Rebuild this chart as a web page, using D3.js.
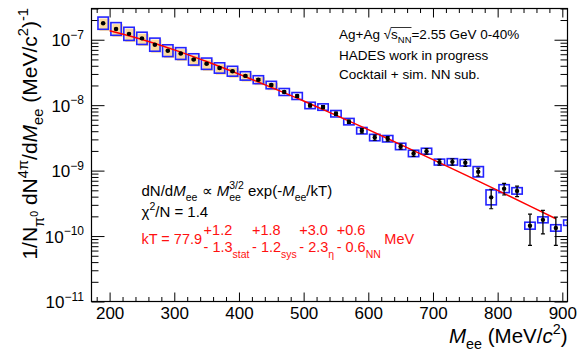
<!DOCTYPE html>
<html>
<head>
<meta charset="utf-8">
<script src="https://cdn.jsdelivr.net/npm/d3@7"></script>
<style>
  body { margin: 0; background: #fff; }
  svg { display: block; font-family: "Liberation Sans", Arial, sans-serif; }
</style>
</head>
<body>
<div id="chart"></div>
<script>
// excess dielectron mass spectrum

var mass = [190, 210, 230, 250, 270, 290, 310, 330, 350, 370, 390, 410, 430, 450, 470, 490, 510, 530, 550,
  570, 590, 610, 630, 650, 670, 690, 710, 730, 750, 770, 790, 810, 830, 850, 870, 890, 910];
var yieldVal = [1.79e-7, 1.46e-7, 1.23e-7, 1.05e-7, 8.4e-8, 6.8e-8, 6.15e-8, 5.0e-8, 4.3e-8, 3.7e-8, 3.3e-8,
  2.8e-8, 2.45e-8, 2.03e-8, 1.59e-8, 1.38e-8, 9.9e-9, 9.35e-9, 7.4e-9, 5.6e-9, 4.07e-9, 3.2e-9, 3.07e-9,
  2.34e-9, 1.83e-9, 1.98e-9, 1.35e-9, 1.36e-9, 1.32e-9, 9.6e-10, 3.9e-10, 5.3e-10, 4.9e-10, 1.44e-10,
  1.77e-10, 1.33e-10, 1.6e-10];
// relative errors
var statErr = [0.02, 0.02, 0.02, 0.02, 0.02, 0.02, 0.02, 0.025, 0.025, 0.03, 0.03, 0.03, 0.035, 0.035, 0.04,
  0.045, 0.05, 0.05, 0.06, 0.06, 0.08, 0.09, 0.08, 0.09, 0.1, 0.1, 0.1, 0.11, 0.12, 0.14, 0.33, 0.2, 0.18,
  0.5, 0.39, 0.46, 0.1];
var sysErr = [0.24, 0.25, 0.26, 0.24, 0.26, 0.23, 0.23, 0.22, 0.22, 0.2, 0.19, 0.16, 0.15, 0.14, 0.13, 0.13,
  0.12, 0.12, 0.12, 0.12, 0.12, 0.12, 0.12, 0.12, 0.12, 0.11, 0.11, 0.12, 0.12, 0.2, 0.3, 0.15, 0.12, 0.13,
  0.11, 0.12, 0.1];
// bins with the (orange) eta subtraction band
var etaMass = [190, 210, 230, 250, 270, 290, 310, 330, 350, 370, 390, 410, 430, 450];

// fit curve, read at a few masses
var fitMass = [200, 250, 300, 350, 400, 450, 500, 550, 600, 650, 700, 750, 800, 850, 890];
var fitVal = [1.37e-7, 1.01e-7, 7.0e-8, 4.64e-8, 2.98e-8, 1.87e-8, 1.16e-8, 7.0e-9, 4.22e-9, 2.49e-9,
  1.47e-9, 8.59e-10, 4.98e-10, 2.87e-10, 1.84e-10];

var xTicks = [200, 300, 400, 500, 600, 700, 800, 900];
var yTicks = [1e-11, 1e-10, 1e-9, 1e-8, 1e-7];
var yTickExp = ["\u221211", "\u221210", "\u22129", "\u22128", "\u22127"];

var ktUp = ["+1.2", "+1.8", "+3.0", "+0.6"];
var ktDown = ["- 1.3", "- 1.2", "- 2.3", "- 0.6"];
var ktSub = ["stat", "sys", "\u03b7", "NN"];

var W = 577, H = 351;
var frame = { left: 91.5, right: 567.5, top: 8.5, bottom: 301.5 };

var svg = d3.select("#chart").append("svg")
  .attr("width", W).attr("height", H);

var x = d3.scaleLinear().domain([172, 908]).range([frame.left, frame.right]);
var y = d3.scaleLog().domain([1e-11, 3e-7]).range([frame.bottom, frame.top]);

svg.append("defs").append("clipPath").attr("id", "clip")
  .append("rect")
  .attr("x", frame.left).attr("y", frame.top)
  .attr("width", frame.right - frame.left).attr("height", frame.bottom - frame.top);

// ---- axes (ROOT style, ticks inside, mirrored)
function cleanAxis(g) {
  g.select(".domain").remove();
  g.selectAll("line").attr("stroke", "#000").attr("stroke-width", 1);
}

var minorX = x.ticks(40).filter(function (d) { return xTicks.indexOf(d) < 0; });
var minorY = y.ticks().filter(function (d) {
  return yTicks.every(function (t) { return Math.abs(t - d) / t > 1e-6; });
});

var gx = svg.append("g").attr("transform", "translate(0," + frame.bottom + ")")
  .call(d3.axisBottom(x).tickValues(xTicks).tickSizeInner(-9).tickSizeOuter(0).tickPadding(5));
cleanAxis(gx);
gx.attr("font-family", null).attr("font-size", null);
gx.selectAll("text").attr("font-size", 17).attr("fill", "#000");

svg.append("g").attr("transform", "translate(0," + frame.bottom + ")")
  .call(d3.axisBottom(x).tickValues(minorX).tickSizeInner(-4.5).tickSizeOuter(0).tickFormat(""))
  .call(cleanAxis);
svg.append("g").attr("transform", "translate(0," + frame.top + ")")
  .call(d3.axisTop(x).tickValues(xTicks).tickSizeInner(-9).tickSizeOuter(0).tickFormat(""))
  .call(cleanAxis);
svg.append("g").attr("transform", "translate(0," + frame.top + ")")
  .call(d3.axisTop(x).tickValues(minorX).tickSizeInner(-4.5).tickSizeOuter(0).tickFormat(""))
  .call(cleanAxis);

svg.append("g").attr("transform", "translate(" + frame.left + ",0)")
  .call(d3.axisLeft(y).tickValues(yTicks).tickSizeInner(-13).tickSizeOuter(0).tickFormat(""))
  .call(cleanAxis);
svg.append("g").attr("transform", "translate(" + frame.left + ",0)")
  .call(d3.axisLeft(y).tickValues(minorY).tickSizeInner(-7).tickSizeOuter(0).tickFormat(""))
  .call(cleanAxis);
svg.append("g").attr("transform", "translate(" + frame.right + ",0)")
  .call(d3.axisRight(y).tickValues(yTicks).tickSizeInner(-13).tickSizeOuter(0).tickFormat(""))
  .call(cleanAxis);
svg.append("g").attr("transform", "translate(" + frame.right + ",0)")
  .call(d3.axisRight(y).tickValues(minorY).tickSizeInner(-7).tickSizeOuter(0).tickFormat(""))
  .call(cleanAxis);

// y tick labels 10^n
var yl = svg.append("g").selectAll("text").data(yTicks).join("text")
  .attr("x", 84).attr("y", function (d) { return y(d) + 6.5; })
  .attr("text-anchor", "end").attr("font-size", 17)
  .text("10");
yl.append("tspan").attr("dy", -7.5).attr("font-size", 12)
  .text(function (d, i) { return yTickExp[i]; });

// ---- data
var plot = svg.append("g").attr("clip-path", "url(#clip)");
var half = 8; // half width of sys boxes in MeV

var pts = mass.map(function (m, i) {
  return { m: m, v: yieldVal[i], st: statErr[i], sy: sysErr[i] };
});

plot.selectAll("rect.eta").data(pts.filter(function (d) { return etaMass.indexOf(d.m) >= 0; }))
  .join("rect").attr("class", "eta")
  .attr("x", function (d) { return x(d.m - half) + 1.5; })
  .attr("y", function (d) { return y(d.v * (1 + d.sy)) + 1.5; })
  .attr("width", function (d) { return x(d.m + half) - x(d.m - half); })
  .attr("height", function (d) { return y(d.v / (1 + d.sy)) - y(d.v * (1 + d.sy)); })
  .attr("fill", "#fcd99b");

plot.selectAll("rect.sys").data(pts).join("rect").attr("class", "sys")
  .attr("x", function (d) { return x(d.m - half); })
  .attr("y", function (d) { return y(d.v * (1 + d.sy)); })
  .attr("width", function (d) { return x(d.m + half) - x(d.m - half); })
  .attr("height", function (d) { return y(d.v / (1 + d.sy)) - y(d.v * (1 + d.sy)); })
  .attr("fill", "none").attr("stroke", "#2424ff").attr("stroke-width", 1.6);

var fitLine = d3.line()
  .x(function (d, i) { return x(fitMass[i]); })
  .y(function (d) { return y(d); })
  .curve(d3.curveMonotoneX);
plot.append("path").datum(fitVal).attr("d", fitLine)
  .attr("fill", "none").attr("stroke", "#ff0000").attr("stroke-width", 1.5);

plot.selectAll("line.err").data(pts).join("line").attr("class", "err")
  .attr("x1", function (d) { return x(d.m); }).attr("x2", function (d) { return x(d.m); })
  .attr("y1", function (d) { return y(d.v * (1 + d.st)); })
  .attr("y2", function (d) { return y(d.v * (1 - d.st)); })
  .attr("stroke", "#000").attr("stroke-width", 1.3);
[1, -1].forEach(function (sgn) {
  plot.selectAll("line.cap" + sgn).data(pts).join("line")
    .attr("x1", function (d) { return x(d.m) - 2; }).attr("x2", function (d) { return x(d.m) + 2; })
    .attr("y1", function (d) { return y(d.v * (1 + sgn * d.st)); })
    .attr("y2", function (d) { return y(d.v * (1 + sgn * d.st)); })
    .attr("stroke", "#000").attr("stroke-width", 1.2);
});

plot.selectAll("circle").data(pts).join("circle")
  .attr("cx", function (d) { return x(d.m); }).attr("cy", function (d) { return y(d.v); })
  .attr("r", 2.2).attr("fill", "#000");

// frame
svg.append("rect")
  .attr("x", frame.left).attr("y", frame.top)
  .attr("width", frame.right - frame.left).attr("height", frame.bottom - frame.top)
  .attr("fill", "none").attr("stroke", "#000").attr("stroke-width", 1.2);

// ---- text with sub/superscripts
function richText(g, px, py, parts, size) {
  var t = g.append("text").attr("x", px).attr("y", py).attr("font-size", size);
  var cur = 0;
  parts.forEach(function (p) {
    var off = (p.off || 0) * size;
    var sp = t.append("tspan").text(p.t).attr("dy", off - cur);
    if (p.sc) sp.attr("font-size", size * p.sc);
    if (p.it) sp.attr("font-style", "italic");
    if (p.dx) sp.attr("dx", p.dx);
    cur = off;
  });
  return t;
}

// axis titles
richText(svg, W - 9.5, 343, [
  { t: "M", it: true }, { t: "ee", off: 0.3, sc: 0.7 }, { t: " (MeV/" }, { t: "c", it: true },
  { t: "2", off: -0.42, sc: 0.7 }, { t: ")" }
], 20.5).attr("text-anchor", "end");

richText(svg, 0, 0, [
  { t: "1/N" }, { t: "\u03c0", off: 0.32, sc: 0.7 }, { t: "0", off: 0.05, sc: 0.5 }, { t: " dN" },
  { t: "4\u03c0", off: -0.42, sc: 0.7 }, { t: "/d" }, { t: "M", it: true }, { t: "ee", off: 0.3, sc: 0.7 },
  { t: " (MeV/c" }, { t: "2", off: -0.42, sc: 0.7 }, { t: ")" }, { t: "-1", off: -0.45, sc: 0.7 }
], 21).attr("text-anchor", "end").attr("transform", "translate(37,8) rotate(-90)");

// top right label
var t1 = richText(svg, 339, 39, [
  { t: "Ag+Ag " }, { t: "\u221a" }, { t: "s" }, { t: "NN", off: 0.3, sc: 0.7 }, { t: "=2.55 GeV 0-40%" }
], 13.5);
var n1 = t1.node();
var ox0 = n1.getEndPositionOfChar(6).x - 0.5, ox1 = n1.getEndPositionOfChar(9).x;
svg.append("line").attr("x1", ox0).attr("x2", ox1).attr("y1", 27.5).attr("y2", 27.5)
  .attr("stroke", "#000").attr("stroke-width", 0.8);
richText(svg, 339, 59.5, [{ t: "HADES work in progress" }], 13.5);
richText(svg, 339, 79, [{ t: "Cocktail + sim. NN sub." }], 13.5);

// fit formula
richText(svg, 141.5, 196, [
  { t: "dN/d" }, { t: "M", it: true }, { t: "ee", off: 0.3, sc: 0.7 }, { t: " \u221d " }, { t: "M", it: true },
  { t: "ee", off: 0.3, sc: 0.7 }, { t: "3/2", off: -0.45, sc: 0.7, dx: -11.7 }, { t: " exp(-" },
  { t: "M", it: true }, { t: "ee", off: 0.3, sc: 0.7 }, { t: "/kT)" }
], 15);
richText(svg, 141.5, 216.5, [
  { t: "\u03c7" }, { t: "2", off: -0.42, sc: 0.7 }, { t: "/N = 1.4" }
], 15);

// kT with its error columns
var red = svg.append("g").attr("fill", "#ff1010").attr("font-size", 14.5);
var kt0 = red.append("text").attr("x", 141.5).attr("y", 244).text("kT = 77.9");
var cx = 141.5 + kt0.node().getComputedTextLength() + 1.5;
ktUp.forEach(function (u, i) {
  var a = red.append("text").attr("x", cx).attr("y", 235).text(u);
  var b = red.append("text").attr("x", cx).attr("y", 252).text(ktDown[i]);
  var s = b.append("tspan").attr("dy", 5.5).attr("font-size", 10.5).text(ktSub[i]);
  cx += Math.max(a.node().getComputedTextLength(), b.node().getComputedTextLength()) + 2.5;
});
red.append("text").attr("x", cx + 1).attr("y", 244).text("MeV");
</script>
</body>
</html>
